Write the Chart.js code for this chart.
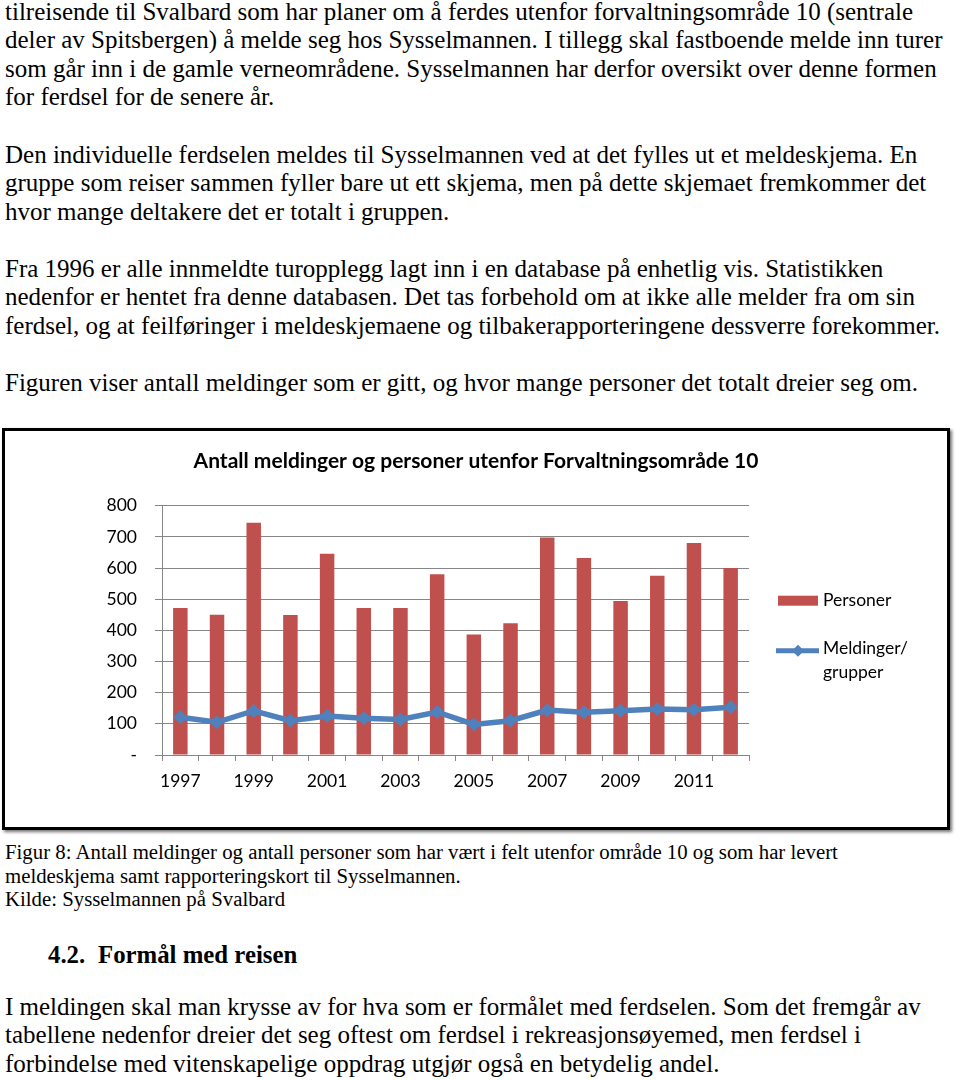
<!DOCTYPE html>
<html lang="no">
<head>
<meta charset="utf-8">
<title>Antall meldinger og personer utenfor Forvaltningsområde 10</title>
<script src="https://cdn.jsdelivr.net/npm/chart.js@4.4.1/dist/chart.umd.min.js"></script>
<style>
    html, body { margin: 0; padding: 0; background: #fff; }
    body {
        width: 960px;
        height: 1080px;
        position: relative;
        overflow: hidden;
        font-family: 'Liberation Serif', 'Times New Roman', serif;
        color: #000;
    }
    .txt { position: absolute; left: 5px; font-size: 25px; line-height: 28.6px; white-space: nowrap; }
    .cap { position: absolute; left: 5px; font-size: 20.8px; line-height: 23.6px; white-space: nowrap; }
    .heading { position: absolute; left: 48px; font-size: 24.8px; line-height: 28.6px; font-weight: bold; white-space: nowrap; }
    .heading .num { display: inline-block; width: 50px; }
    .chart-box {
        position: absolute;
        left: 2px;
        top: 428px;
        width: 942px;
        height: 396px;
        border: 3px solid #000;
        box-shadow: 2px 2px 3px rgba(0, 0, 0, 0.55);
        background: #fff;
    }
    .chart-box canvas { display: block; }
</style>
</head>
<body>
<div class="txt" style="top:-2.5px">tilreisende til Svalbard som har planer om å ferdes utenfor forvaltningsområde 10 (sentrale<br>deler av Spitsbergen) å melde seg hos Sysselmannen. I tillegg skal fastboende melde inn turer<br>som går inn i de gamle verneområdene. Sysselmannen har derfor oversikt over denne formen<br>for ferdsel for de senere år.</div>
<div class="txt" style="top:140.5px">Den individuelle ferdselen meldes til Sysselmannen ved at det fylles ut et meldeskjema. En<br>gruppe som reiser sammen fyller bare ut ett skjema, men på dette skjemaet fremkommer det<br>hvor mange deltakere det er totalt i gruppen.</div>
<div class="txt" style="top:254.5px">Fra 1996 er alle innmeldte turopplegg lagt inn i en database på enhetlig vis. Statistikken<br>nedenfor er hentet fra denne databasen. Det tas forbehold om at ikke alle melder fra om sin<br>ferdsel, og at feilføringer i meldeskjemaene og tilbakerapporteringene dessverre forekommer.</div>
<div class="txt" style="top:368.5px">Figuren viser antall meldinger som er gitt, og hvor mange personer det totalt dreier seg om.</div>

<div class="chart-box">
    <canvas id="meldinger-chart" width="942" height="396"></canvas>
</div>

<div class="cap" style="top:840px">Figur 8: Antall meldinger og antall personer som har vært i felt utenfor område 10 og som har levert<br>meldeskjema samt rapporteringskort til Sysselmannen.<br>Kilde: Sysselmannen på Svalbard</div>
<div class="heading" style="top:940.5px"><span class="num">4.2.</span>Formål med reisen</div>
<div class="txt" style="top:992.5px">I meldingen skal man krysse av for hva som er formålet med ferdselen. Som det fremgår av<br>tabellene nedenfor dreier det seg oftest om ferdsel i rekreasjonsøyemed, men ferdsel i<br>forbindelse med vitenskapelige oppdrag utgjør også en betydelig andel.</div>

<script>
const YEARS = ['1997', '1998', '1999', '2000', '2001', '2002', '2003', '2004',
    '2005', '2006', '2007', '2008', '2009', '2010', '2011', '2012'];
const PERSONER = [472, 450, 745, 449, 646, 472, 472, 580, 387, 423, 698, 632, 494, 575, 680, 600];
const MELDINGER = [121, 105, 142, 110, 125, 118, 114, 138, 98, 110, 144, 137, 142, 148, 145, 153];
const Y_MAX = 800;
const Y_STEP = 100;

const TITLE = 'Antall meldinger og personer utenfor Forvaltningsområde 10';
const RED = '#C0504D';
const BLUE = '#4F81BD';
const GRID = '#868686';
const FONT = 'Lato, "Open Sans", sans-serif';
const LEGEND_WIDTH = 198;

// Excel-style legend as a layout box on the right, so the title still
// centres over the whole chart while the plot stops short of the legend.
const sideLegend = {
    id: 'sideLegend',
    beforeInit(chart) {
        const box = {
            position: 'right',
            weight: 0,
            fullSize: false,
            options: {},
            isHorizontal: () => false,
            update(maxWidth, maxHeight) {
                this.width = LEGEND_WIDTH;
                this.height = maxHeight;
            },
            draw() {
                const ctx = chart.ctx;
                const bar = chart.data.datasets.find((d) => d.type === 'bar');
                const line = chart.data.datasets.find((d) => d.type === 'line');
                const x0 = this.left;
                const y0 = this.top;
                ctx.save();
                ctx.font = `17.5px ${FONT}`;
                ctx.textBaseline = 'middle';
                ctx.textAlign = 'left';

                ctx.fillStyle = bar.backgroundColor;
                ctx.fillRect(x0 + 29, y0 + 90, 40, 10);
                ctx.fillStyle = '#000';
                ctx.fillText(bar.label, x0 + 74, y0 + 95);

                ctx.strokeStyle = line.borderColor;
                ctx.lineWidth = 5;
                ctx.beginPath();
                ctx.moveTo(x0 + 27, y0 + 145);
                ctx.lineTo(x0 + 70, y0 + 145);
                ctx.stroke();
                ctx.fillStyle = line.borderColor;
                Chart.helpers.drawPoint(ctx, { pointStyle: 'rectRot', radius: 6, borderWidth: 0 }, x0 + 49, y0 + 145);
                ctx.fillStyle = '#000';
                line.label.split(' ').forEach((part, i) => ctx.fillText(part, x0 + 74, y0 + 143 + i * 24));
                ctx.restore();
            }
        };
        Chart.layouts.addBox(chart, box);
    }
};

new Chart(document.getElementById('meldinger-chart'), {
    data: {
        labels: YEARS,
        datasets: [
            {
                type: 'line',
                label: 'Meldinger/ grupper',
                data: MELDINGER,
                borderColor: BLUE,
                backgroundColor: BLUE,
                borderWidth: 5.5,
                pointStyle: 'rectRot',
                pointRadius: 7,
                pointBorderWidth: 0,
                pointBackgroundColor: BLUE,
                tension: 0,
                order: 0
            },
            {
                type: 'bar',
                label: 'Personer',
                data: PERSONER,
                backgroundColor: RED,
                barPercentage: 0.395,
                categoryPercentage: 1,
                order: 1
            }
        ]
    },
    options: {
        responsive: false,
        animation: false,
        layout: {
            padding: 0
        },
        plugins: {
            legend: { display: false },
            tooltip: { enabled: false },
            title: {
                display: true,
                text: TITLE,
                color: '#000',
                font: { family: FONT, size: 21, weight: 'bold', lineHeight: 1.2 },
                padding: { top: 18, bottom: 31.5 }
            }
        },
        scales: {
            x: {
                offset: true,
                grid: {
                    offset: true,
                    drawOnChartArea: false,
                    drawTicks: true,
                    tickLength: 6,
                    color: GRID
                },
                border: { color: GRID, width: 1 },
                ticks: {
                    autoSkip: false,
                    maxRotation: 0,
                    padding: 10,
                    color: '#000',
                    font: { family: FONT, size: 17.5 },
                    callback: (value, index) => (index % 2 === 0 ? YEARS[index] : '')
                },
                afterFit: (scale) => { scale.height = 72; }
            },
            y: {
                min: 0,
                max: Y_MAX,
                grid: {
                    color: GRID,
                    tickLength: 7,
                    drawTicks: true
                },
                border: { color: GRID, width: 1 },
                ticks: {
                    stepSize: Y_STEP,
                    padding: 18,
                    color: '#000',
                    font: { family: FONT, size: 17.5 },
                    callback: (value) => (value === 0 ? '-' : value)
                },
                afterFit: (scale) => { scale.width = 157; }
            }
        }
    },
    plugins: [sideLegend]
});
</script>
</body>
</html>
